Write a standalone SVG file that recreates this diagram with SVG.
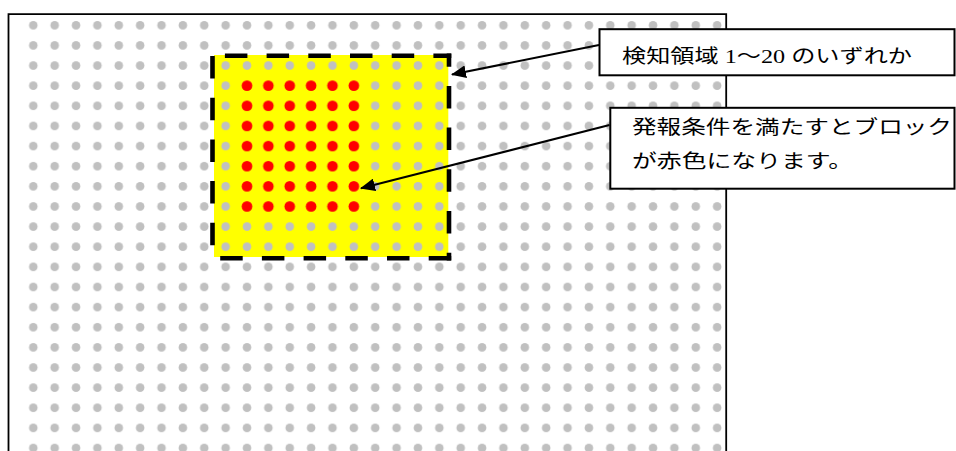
<svg xmlns="http://www.w3.org/2000/svg" width="956" height="451" viewBox="0 0 956 451">
  <style>
    .frame { fill: none; stroke: #000; stroke-width: 1.8; }
    .dash { fill: none; stroke: #000; stroke-width: 4.6; stroke-dasharray: 22.5 19.2; }
    .box { fill: #fff; stroke: #000; stroke-width: 2; }
    .lbl { font-family: "Liberation Serif", "Noto Sans CJK JP", serif; font-size: 19px; fill: #000; }
    .conn { stroke: #000; stroke-width: 2; fill: none; marker-end: url(#arrow); }
  </style>
  <defs>
    <pattern id="gray" patternUnits="userSpaceOnUse" x="22.615" y="15.235" width="21.37" height="20.13">
      <circle cx="10.685" cy="10.065" r="4.3" fill="#C0C0C0"/>
    </pattern>
    <pattern id="red" patternUnits="userSpaceOnUse" x="22.615" y="15.235" width="21.37" height="20.13">
      <circle cx="10.685" cy="10.065" r="5.3" fill="#FF0000"/>
    </pattern>
    <marker id="arrow" markerUnits="userSpaceOnUse" markerWidth="15" markerHeight="13" refX="14" refY="6.5" orient="auto">
      <path d="M0,0 L15,6.5 L0,13 z" fill="#000"/>
    </marker>
  </defs>
  <rect width="956" height="451" fill="#fff"/>

  <g id="frame">
    <path class="frame" d="M8.5,452 V14.2 H726.2 V452"/>
    <rect x="22.615" y="15.5" width="702" height="436" fill="url(#gray)"/>
  </g>

  <g id="region">
    <rect x="214" y="55" width="234.3" height="202" fill="#FFFF00"/>
    <rect x="214" y="55" width="234.3" height="202" fill="url(#gray)"/>
    <rect x="236.3" y="75.6" width="128.2" height="140.9" fill="url(#red)"/>
    <line class="dash" x1="210.2" y1="55.8" x2="451.3" y2="55.8" stroke-dashoffset="27"/>
    <line class="dash" x1="449" y1="53.5" x2="449" y2="260.6" stroke-dashoffset="9.3"/>
    <line class="dash" x1="210.2" y1="258.3" x2="451.3" y2="258.3" stroke-dashoffset="31.7"/>
    <line class="dash" x1="212.5" y1="53.5" x2="212.5" y2="260.6" stroke-dashoffset="39.2"/>
  </g>

  <g id="label1">
    <rect class="box" x="599.5" y="29.2" width="355" height="46.1"/>
    <text class="lbl" x="622" y="63" textLength="290" lengthAdjust="spacingAndGlyphs">検知領域 1～20 のいずれか</text>
  </g>

  <g id="label2">
    <rect class="box" x="610.3" y="107.8" width="344.2" height="80.9"/>
    <text class="lbl" x="632" y="134" textLength="320" lengthAdjust="spacingAndGlyphs">発報条件を満たすとブロック</text>
    <text class="lbl" x="632" y="168" textLength="221" lengthAdjust="spacingAndGlyphs">が赤色になります。</text>
  </g>

  <g id="connectors">
    <line class="conn" x1="599" y1="45" x2="452" y2="74.5"/>
    <line class="conn" x1="609.5" y1="125" x2="361" y2="188.3"/>
  </g>
</svg>
